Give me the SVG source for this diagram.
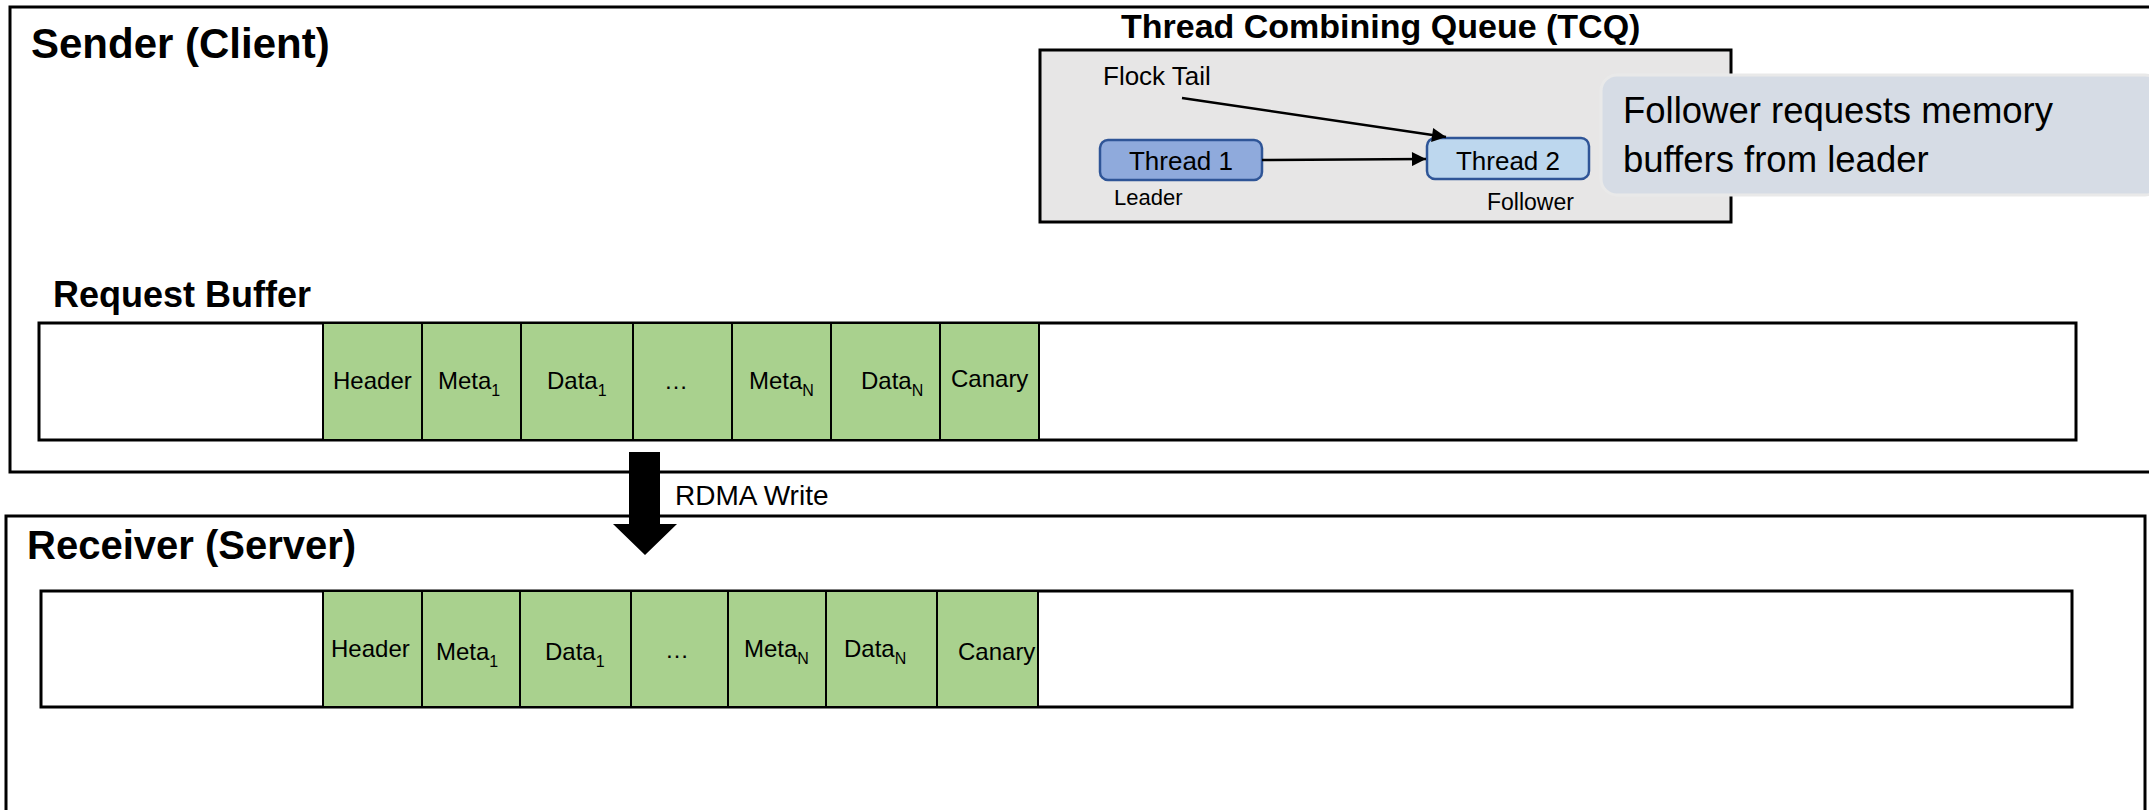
<svg xmlns="http://www.w3.org/2000/svg" width="2149" height="810" viewBox="0 0 2149 810">
<defs>
<style>
text{font-family:"Liberation Sans",Arial,sans-serif;fill:#000}
.title{font-weight:bold}
.frame{fill:#fff;stroke:#000;stroke-width:3}
.buf{fill:#fff;stroke:#000;stroke-width:3}
.cell{fill:#a9d18e;stroke:#000;stroke-width:2}
.ct{font-size:24px}
.sub{font-size:16px}
.conn{stroke:#000;stroke-width:2.5;fill:none}
.thread{stroke:#2f5597;stroke-width:2.5}
</style>
<marker id="ah" viewBox="0 0 10 10" refX="10" refY="5" markerWidth="16" markerHeight="14" markerUnits="userSpaceOnUse" orient="auto">
<path d="M0,0 L10,5 L0,10 Z" fill="#000"/>
</marker>
</defs>

<g id="sender">
<rect class="frame" x="10" y="7" width="2160" height="465"/>
<text class="title" x="31" y="58" font-size="42">Sender (Client)</text>
</g>

<g id="receiver">
<rect class="frame" x="6" y="516" width="2139" height="320"/>
<text class="title" x="27" y="559" font-size="40">Receiver (Server)</text>
</g>

<g id="request-buffer">
<text class="title" x="53" y="307" font-size="36">Request Buffer</text>
<rect class="buf" x="39" y="323" width="2037" height="117"/>
<rect class="cell" x="323" y="323" width="99" height="117"/>
<rect class="cell" x="422" y="323" width="99" height="117"/>
<rect class="cell" x="521" y="323" width="112" height="117"/>
<rect class="cell" x="633" y="323" width="99" height="117"/>
<rect class="cell" x="732" y="323" width="99" height="117"/>
<rect class="cell" x="831" y="323" width="109" height="117"/>
<rect class="cell" x="940" y="323" width="99" height="117"/>
<text class="ct" x="333" y="389">Header</text>
<text class="ct" x="438" y="389">Meta<tspan class="sub" dy="7">1</tspan></text>
<text class="ct" x="547" y="389">Data<tspan class="sub" dy="7">1</tspan></text>
<text class="ct" x="664" y="389">…</text>
<text class="ct" x="749" y="389">Meta<tspan class="sub" dy="7">N</tspan></text>
<text class="ct" x="861" y="389">Data<tspan class="sub" dy="7">N</tspan></text>
<text class="ct" x="951" y="387">Canary</text>
</g>

<g id="receiver-buffer">
<rect class="buf" x="41" y="591" width="2031" height="116"/>
<rect class="cell" x="323" y="591" width="99" height="116"/>
<rect class="cell" x="422" y="591" width="98" height="116"/>
<rect class="cell" x="520" y="591" width="111" height="116"/>
<rect class="cell" x="631" y="591" width="97" height="116"/>
<rect class="cell" x="728" y="591" width="98" height="116"/>
<rect class="cell" x="826" y="591" width="111" height="116"/>
<rect class="cell" x="937" y="591" width="101" height="116"/>
<text class="ct" x="331" y="657">Header</text>
<text class="ct" x="436" y="660">Meta<tspan class="sub" dy="7">1</tspan></text>
<text class="ct" x="545" y="660">Data<tspan class="sub" dy="7">1</tspan></text>
<text class="ct" x="665" y="658">…</text>
<text class="ct" x="744" y="657">Meta<tspan class="sub" dy="7">N</tspan></text>
<text class="ct" x="844" y="657">Data<tspan class="sub" dy="7">N</tspan></text>
<text class="ct" x="958" y="660">Canary</text>
</g>

<g id="tcq">
<text class="title" x="1121" y="38" font-size="34">Thread Combining Queue (TCQ)</text>
<rect x="1040" y="50" width="691" height="172" fill="#e7e6e6" stroke="#000" stroke-width="3"/>
<text x="1103" y="85" font-size="26">Flock Tail</text>
</g>

<g id="thread1">
<rect class="thread" x="1100" y="140" width="162" height="40" rx="8" fill="#8faadc"/>
<text x="1181" y="170" font-size="26" text-anchor="middle">Thread 1</text>
<text x="1114" y="205" font-size="22">Leader</text>
</g>

<g id="thread2">
<rect class="thread" x="1427" y="138" width="162" height="41" rx="8" fill="#bdd7ee"/>
<text x="1508" y="170" font-size="26" text-anchor="middle">Thread 2</text>
<text x="1487" y="210" font-size="23">Follower</text>
</g>

<g id="callout">
<rect x="1601" y="75" width="560" height="120" rx="16" fill="#d6dce5" stroke="#e9e9e9" stroke-width="3"/>
<text x="1623" y="123" font-size="36.5">Follower requests memory</text>
<text x="1623" y="172" font-size="36.5">buffers from leader</text>
</g>

<g id="connectors">
<line class="conn" x1="1182" y1="98" x2="1446" y2="137" marker-end="url(#ah)"/>
<line class="conn" x1="1262" y1="160" x2="1426" y2="159" marker-end="url(#ah)"/>
<polygon points="629,452 660,452 660,524 677,524 645,555 613,524 629,524" fill="#000"/>
<text x="675" y="505" font-size="28">RDMA Write</text>
</g>
</svg>
